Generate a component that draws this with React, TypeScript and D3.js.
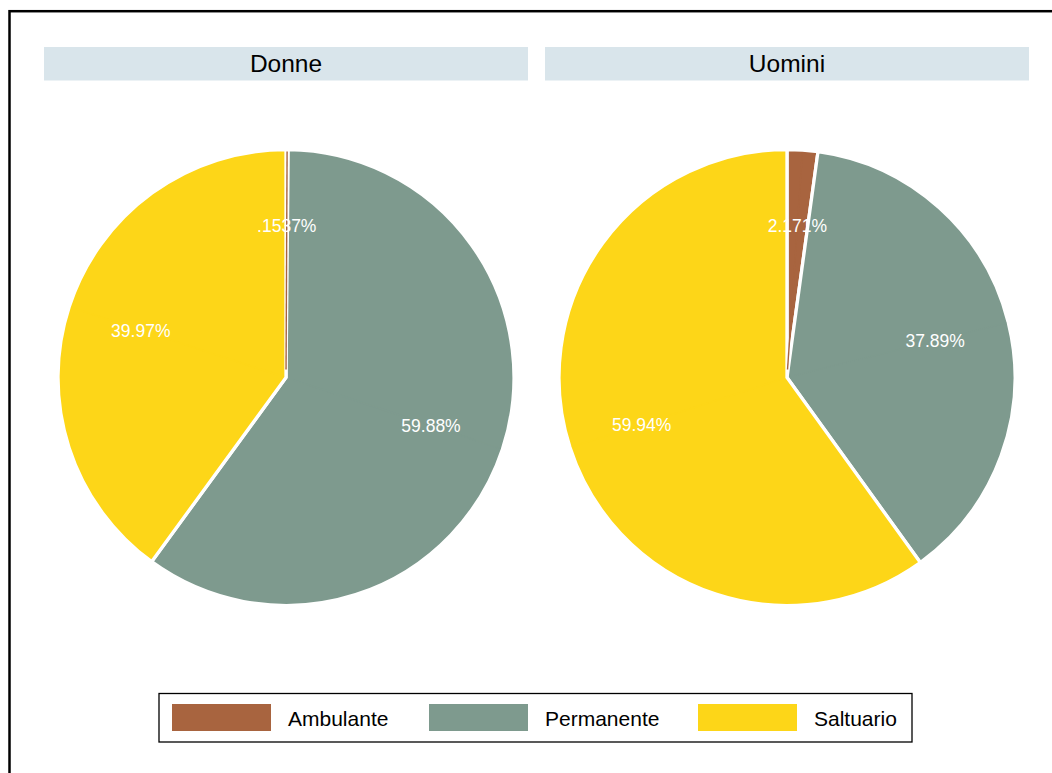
import React from "react";
import * as d3 from "d3";

const panels = ["Donne", "Uomini"];
const categories = ["Ambulante", "Permanente", "Saltuario"];
const donneValues = [0.1537, 59.88, 39.97];
const uominiValues = [2.171, 37.89, 59.94];
const donneLabels = [".1537%", "59.88%", "39.97%"];
const uominiLabels = ["2.171%", "37.89%", "59.94%"];
const colors = ["#a8643f", "#7e9a8e", "#fdd618"];

const W = 1052;
const H = 773;
const FONT = "Arial, 'Liberation Sans', Helvetica, sans-serif";

export default function App() {
  const seriesValues = [donneValues, uominiValues];
  const seriesLabels = [donneLabels, uominiLabels];

  const x = d3.scaleBand<string>().domain(panels).range([44, 1029]).paddingInner(0.0339).paddingOuter(0);
  const stripTop = 47;
  const stripH = 33.5;
  const cy = 377.5;
  const r = 228;

  const pie = d3.pie<number>().sort(null).value((d) => d).startAngle(0).endAngle(2 * Math.PI);
  const arc = d3.arc<d3.PieArcDatum<number>>().innerRadius(0).outerRadius(r);
  const labelArc = d3.arc<d3.PieArcDatum<number>>().innerRadius(r * 0.67).outerRadius(r * 0.67);

  const legendX = d3.scaleOrdinal<string, number>().domain(categories).range([172, 429, 698]);
  const legendColor = d3.scaleOrdinal<string, string>().domain(categories).range(colors);

  return (
    <svg width={W} height={H} style={{ position: "absolute", left: 0, top: 0, background: "#fff" }} fontFamily={FONT}>
      <rect x={0} y={0} width={W} height={H} fill="#fff" />
      <rect x={9.5} y={11.2} width={1200} height={900} fill="none" stroke="#000" strokeWidth={2.5} />
      {panels.map((p, pi) => {
        const x0 = x(p) as number;
        const bw = x.bandwidth();
        const cx = x0 + bw / 2;
        const arcs = pie(seriesValues[pi]);
        return (
          <g key={p}>
            <rect x={x0} y={stripTop} width={bw} height={stripH} fill="#d9e5eb" />
            <text x={cx} y={stripTop + 24.5} textAnchor="middle" fontSize={24.5} fill="#000">
              {p}
            </text>
            <g transform={`translate(${cx},${cy})`}>
              {arcs.map((a, i) => (
                <path key={i} d={arc(a) as string} fill={colors[i]} stroke="#fff" strokeWidth={3.3} strokeLinejoin="miter" />
              ))}
              {arcs.map((a, i) => {
                const mid = (a.startAngle + a.endAngle) / 2;
                const r0 = 8;
                return (
                  <line
                    key={"m" + i}
                    x1={Math.sin(mid) * r0}
                    y1={-Math.cos(mid) * r0}
                    x2={Math.sin(mid) * (r - 2)}
                    y2={-Math.cos(mid) * (r - 2)}
                    stroke={colors[i]}
                    strokeWidth={1.4}
                  />
                );
              })}
              {arcs.map((a, i) => {
                const [lx, ly] = labelArc.centroid(a);
                return (
                  <text key={"t" + i} x={lx} y={ly + 6.8} textAnchor="middle" fontSize={17.5} fill="#fff">
                    {seriesLabels[pi][i]}
                  </text>
                );
              })}
            </g>
          </g>
        );
      })}
      <g>
        <rect x={159} y={693.5} width={753} height={48.5} fill="#fff" stroke="#000" strokeWidth={1.3} />
        {categories.map((c) => (
          <g key={c}>
            <rect x={legendX(c)} y={704} width={99} height={27} fill={legendColor(c)} />
            <text x={legendX(c) + 116} y={725.5} fontSize={21} fill="#000">
              {c}
            </text>
          </g>
        ))}
      </g>
    </svg>
  );
}
